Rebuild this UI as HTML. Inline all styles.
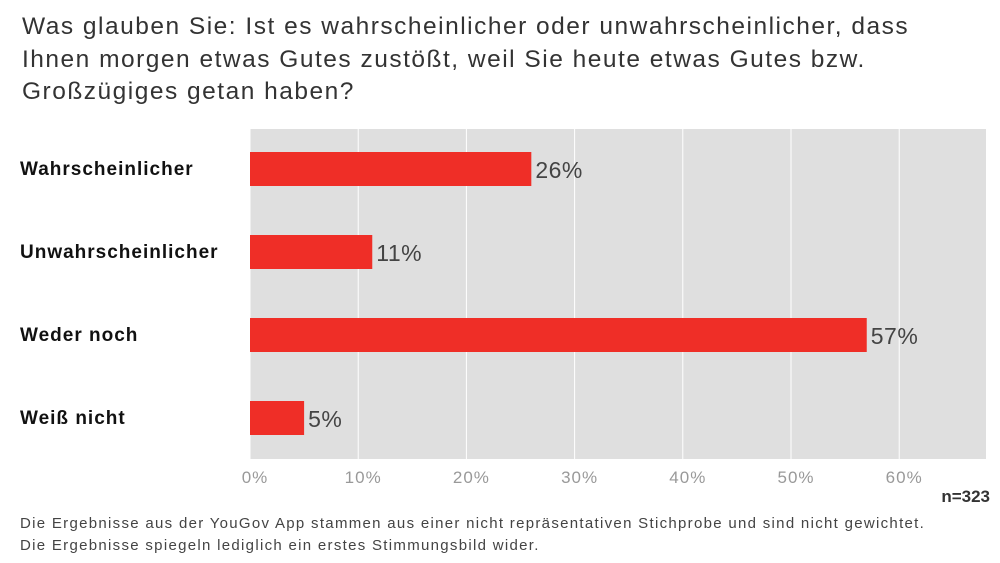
<!DOCTYPE html>
<html><head><meta charset="utf-8"><style>
body{margin:0;width:1000px;height:563px;background:#fff;font-family:"Liberation Sans",sans-serif;overflow:hidden;position:relative}
#title{position:absolute;left:22px;top:11px;font-size:24.5px;line-height:32.5px;color:#333;white-space:nowrap;letter-spacing:1.5px}
#note{position:absolute;left:20px;top:513px;font-size:15px;line-height:22px;color:#444;letter-spacing:1.3px;white-space:nowrap}
#n{position:absolute;right:10px;top:487px;font-size:17px;font-weight:bold;color:#333}
</style></head><body>
<div id="title">Was glauben Sie: Ist es wahrscheinlicher oder unwahrscheinlicher, dass<br>Ihnen morgen etwas Gutes zustößt, weil Sie heute etwas Gutes bzw.<br>Großzügiges getan haben?</div>
<svg id="chart" width="1000" height="563" style="position:absolute;left:0;top:0"></svg>
<div id="n">n=323</div>
<div id="note">Die Ergebnisse aus der YouGov App stammen aus einer nicht repräsentativen Stichprobe und sind nicht gewichtet.<br>Die Ergebnisse spiegeln lediglich ein erstes Stimmungsbild wider.</div>
<script>
const categories=["Wahrscheinlicher","Unwahrscheinlicher","Weder noch","Weiß nicht"];
const values=[26,11.3,57,5];
const ticks=[0,10,20,30,40,50,60];
const NS="http://www.w3.org/2000/svg";
const svg=document.getElementById('chart');
const x0=250,pxPer=10.82,top0=129,bottom0=459,step=83,barH=34;
const xs=v=>x0+v*pxPer;
const yc=i=>169+i*step;
function mk(t,a,p){const e=document.createElementNS(NS,t);for(const k in a)e.setAttribute(k,a[k]);(p||svg).appendChild(e);return e;}
const bg=mk('rect',{x:x0,y:top0,width:736,height:bottom0-top0,fill:'#dfdfdf'});


ticks.forEach(t=>{
 const g=mk('line',{x1:xs(t),x2:xs(t),y1:top0,y2:bottom0,stroke:'#fff','stroke-width':1});
 
 
 const l=mk('text',{x:xs(t)+5,y:483,'text-anchor':'middle','font-size':17,fill:'#999','letter-spacing':1});
 l.textContent=t+'%';
 
 
});
categories.forEach((c,i)=>{
 const lb=mk('text',{x:20,y:yc(i)+6,'font-size':19,'font-weight':'bold',fill:'#111','letter-spacing':1});
 lb.textContent=c;
 
 
 const b=mk('rect',{x:x0,y:yc(i)-barH/2,width:xs(values[i])-x0,height:barH,fill:'#ef2e27'});
 
 
 const v=mk('text',{x:xs(values[i])+4,y:yc(i)+9,'font-size':23,fill:'#444','letter-spacing':0.5});
 v.textContent=Math.round(values[i])+'%';
 
 
});
</script>
</body></html>
